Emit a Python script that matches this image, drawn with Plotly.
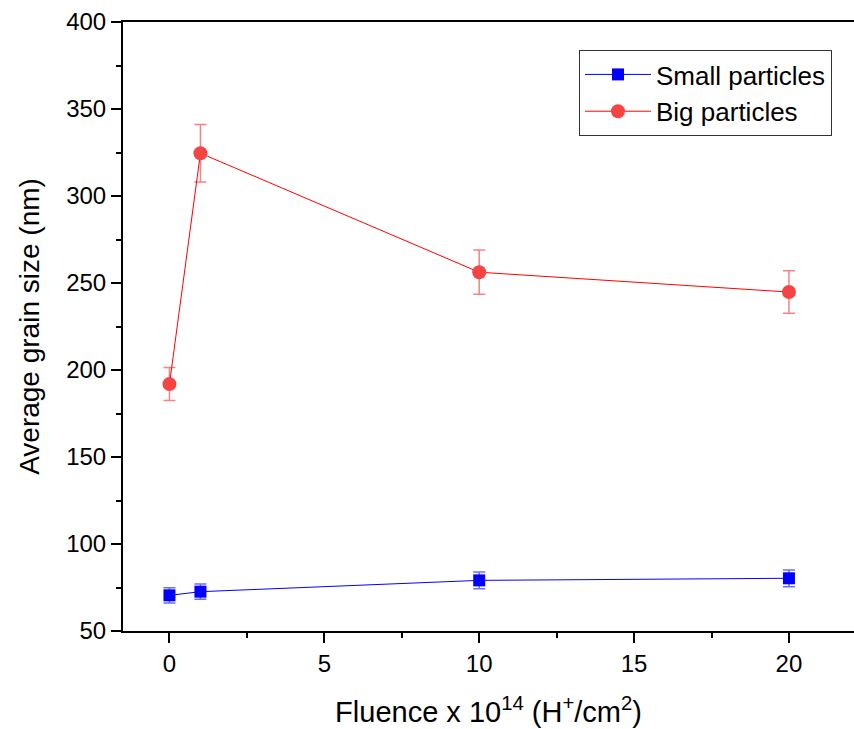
import plotly.graph_objects as go

# Fluence (x 10^14 H+/cm^2)
fluence = [0, 1, 10, 20]

# Average grain size (nm) and standard deviations
small_size = [70.5, 72.6, 79.1, 80.3]
small_err = [4.4, 4.4, 4.8, 4.8]
big_size = [191.9, 324.6, 256.2, 244.8]
big_err = [9.5, 16.5, 12.7, 12.2]

font_family = "Liberation Sans, Arial, sans-serif"

fig = go.Figure()

fig.add_trace(go.Scatter(
    x=fluence, y=small_size, name="Small particles",
    mode="lines+markers",
    line=dict(color="#0000FF", width=1),
    marker=dict(symbol="square", size=12, color="#0000FF"),
    error_y=dict(type="data", array=small_err, visible=True,
                 color="rgba(60,60,255,0.75)", thickness=1.5, width=6),
))

fig.add_trace(go.Scatter(
    x=fluence, y=big_size, name="Big particles",
    mode="lines+markers",
    line=dict(color="#FF0000", width=1),
    marker=dict(symbol="circle", size=14, color="#F44444"),
    error_y=dict(type="data", array=big_err, visible=True,
                 color="rgba(240,80,80,0.7)", thickness=1.5, width=6),
))

axis_common = dict(
    showline=True, linecolor="black", linewidth=2,
    showgrid=False, zeroline=False,
    ticks="outside", ticklen=10, tickwidth=2, tickcolor="black",
    tickfont=dict(family=font_family, size=24, color="black"),
)

fig.update_layout(
    width=854, height=729,
    margin=dict(l=123, r=0, t=22, b=98),
    paper_bgcolor="white", plot_bgcolor="white",
    font=dict(family=font_family, color="black"),
    showlegend=True,
    legend=dict(
        x=0.6238, y=0.954, xanchor="left", yanchor="top",
        bgcolor="white", bordercolor="#333333", borderwidth=1,
        font=dict(family=font_family, size=26, color="black"),
        itemwidth=66, tracegroupgap=0,
    ),
    xaxis=dict(
        range=[-1.5, 22.1], tickvals=[0, 5, 10, 15, 20],
        mirror=True,
        minor=dict(ticks="outside", ticklen=5, tickwidth=2, tickcolor="black",
                   dtick=2.5, tick0=0, showgrid=False),
        title=dict(text="Fluence x 10<sup>14</sup> (H<sup>+</sup>/cm<sup>2</sup>)",
                   font=dict(family=font_family, size=29, color="black"),
                   standoff=26),
        **axis_common,
    ),
    yaxis=dict(
        range=[50, 400], tickvals=[50, 100, 150, 200, 250, 300, 350, 400],
        mirror=False,
        minor=dict(ticks="outside", ticklen=5, tickwidth=2, tickcolor="black",
                   dtick=25, tick0=0, showgrid=False),
        title=dict(text="Average grain size (nm)",
                   font=dict(family=font_family, size=28, color="black"),
                   standoff=18),
        **axis_common,
    ),
)

fig.write_html("out.html")
